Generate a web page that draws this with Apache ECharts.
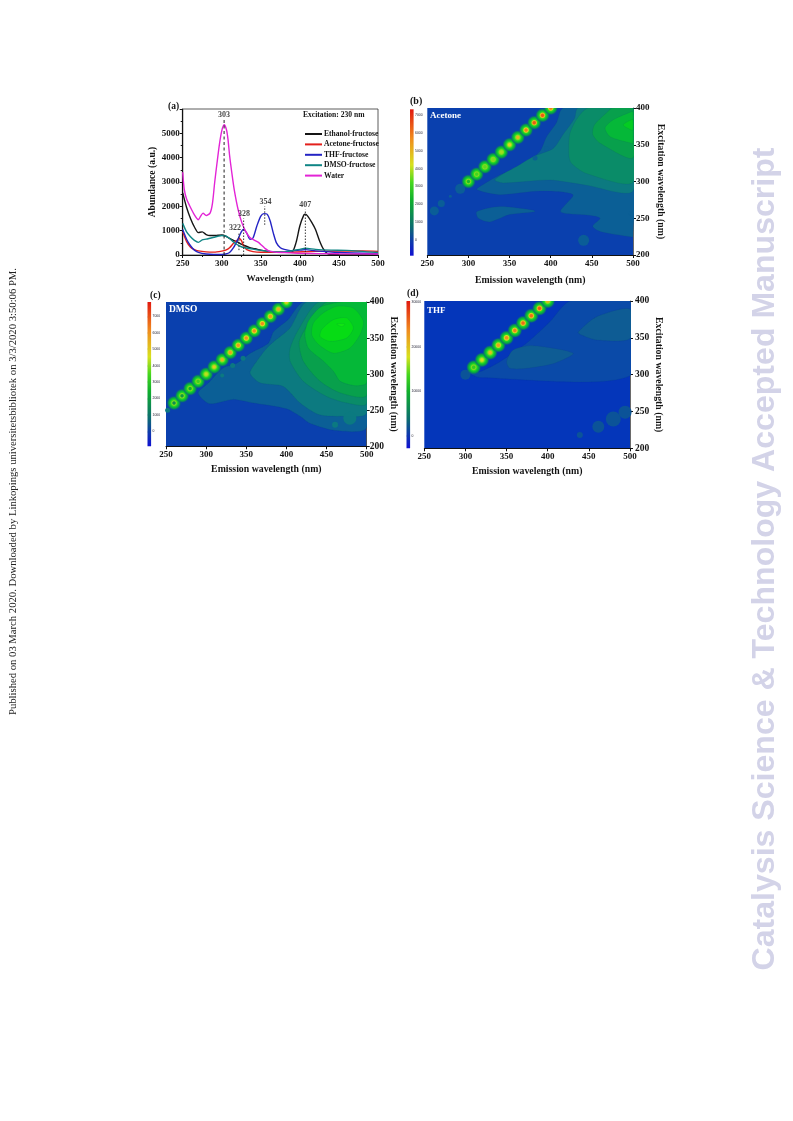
<!DOCTYPE html>
<html><head><meta charset="utf-8">
<style>html,body{margin:0;padding:0;background:#fff}#c{width:793px;height:1121px;filter:blur(0.5px)}</style>
<script src="https://cdn.jsdelivr.net/npm/echarts@6/dist/echarts.min.js"></script>
</head><body><div id="c"></div>
<script>
// ---- Panel (a) spectra, [wavelength, abundance]
const ethanol=[[250,2550],[255,1950],[260,1500],[265,1150],[270,920],[275,950],[280,840],[285,800],[290,800],[295,810],[300,820],[305,780],[310,680],[315,600],[320,540],[325,450],[330,380],[335,310],[340,270],[345,240],[350,200],[360,150],[370,120],[380,110],[390,130],[395,500],[400,1200],[405,1640],[407,1680],[410,1600],[415,1350],[420,1050],[425,600],[430,250],[435,60],[440,20],[450,10],[500,5]];
const acetone=[[250,950],[255,550],[260,320],[265,220],[270,170],[280,130],[290,120],[300,160],[305,200],[310,300],[315,480],[320,620],[322,680],[325,600],[328,380],[332,220],[340,140],[350,110],[380,110],[420,150],[450,160],[480,170],[500,150]];
const thf=[[250,1050],[255,650],[260,380],[265,200],[270,110],[280,40],[290,20],[300,20],[305,40],[310,100],[315,300],[320,600],[325,950],[328,1060],[332,900],[336,650],[340,700],[345,1200],[350,1600],[354,1700],[358,1680],[362,1400],[366,900],[370,500],[375,300],[380,230],[390,170],[400,200],[407,220],[420,170],[450,100],[500,60]];
const dmso=[[250,1300],[255,950],[260,750],[265,600],[270,520],[275,620],[280,650],[285,690],[290,730],[295,770],[300,800],[305,780],[310,680],[315,540],[320,420],[325,340],[330,300],[340,240],[350,190],[360,150],[370,130],[380,130],[390,180],[400,230],[407,280],[420,230],[440,200],[460,190],[500,100]];
const water=[[250,3400],[252,2700],[255,2300],[260,1950],[265,1650],[270,1450],[273,1600],[276,1720],[280,1620],[285,1720],[288,2100],[291,3000],[294,3800],[297,4550],[300,5100],[303,5350],[306,5150],[308,4750],[310,4100],[313,3350],[316,2680],[321,1860],[326,1300],[331,950],[336,720],[342,600],[347,520],[351,400],[355,280],[360,170],[370,110],[380,100],[400,70],[450,50],[500,40]];
const seriesNames=['Ethanol-fructose','Acetone-fructose','THF-fructose','DMSO-fructose','Water'];
const guideLabels=['303','322','328','354','407'];
const guideX=[303,322,328,355,407];
const guideLow=[0,200,0,1240,0];
const guideHigh=[5580,900,1500,2000,1860];
const guideLabelPos=[[303,5760],[317,1100],[328.5,1680],[356,2180],[407,2060]];

// ---- Panel (b) Acetone EEM, contours as [emission, excitation]
const bBands=[
 [[415,400],[407,380],[395,361],[387,341],[375,330],[354,316],[338,309],[318,296],[310,289],[338,282],[387,287],[427,282],[412,259],[447,254],[460,250],[451,239],[460,232],[496,225],[500,225],[500,400]],
 [[433,400],[429,386],[415,364],[403,345],[379,334],[358,320],[340,309],[332,302],[342,298],[399,302],[443,295],[500,287],[500,400]],
 [[445,400],[431,384],[423,364],[422,336],[425,325],[443,311],[500,299],[500,400]],
 [[474,400],[472,398],[453,377],[451,364],[460,352],[500,332],[500,400]],
 [[498,395],[476,384],[466,373],[472,361],[498,352],[500,352],[500,395]],
 [[498,384],[488,377],[498,370],[500,370],[500,384]]];
const bLowBlob=[[310,259],[338,266],[379,261],[381,259],[350,255],[326,245],[312,250]];
const bBlobs=[[258.5,260],[267,270],[278,280],[290,290],[440,220],[498,256],[395,345],[381,332]];
const bBlobSizes=[9,7,3,10,11,5,5,5];
const bPeakX=[300,310,320,330,340,350,360,370,380,390,400];
const bPeakY=[300,310,320,330,340,350,360,370,380,390,400];
const bPeakV=[3000,3600,3800,4000,4200,4700,5200,6000,6500,6500,6000];
const bBarTicks=[0,1000,2000,3000,4000,5000,6000,7000];

// ---- Panel (c) DMSO EEM
const cBands=[
 [[421,400],[402,375.5],[384,359],[377.5,343],[355,329],[338,315],[321,308.5],[303,288],[290,274],[304,259],[334,265],[359,260],[400,252],[417,241.6],[429,232],[460.6,222],[500,226],[500,400]],
 [[425,400],[404.5,364],[384,345],[375.4,336],[363,318],[354.7,301.6],[367,288],[396,283],[417,260],[440,244],[467,241.5],[500,246],[500,400]],
 [[440,400],[415,362],[404.5,336],[404.5,318],[421,290],[450,269],[475,260],[500,259],[500,400]],
 [[450,400],[429.4,373],[416,345.5],[421,318],[442,290],[467,274],[500,270.6],[500,400]],
 [[467,400],[442,392.6],[427,373],[423,355],[427.3,336],[446,318],[458.5,304],[467,290],[485.5,284],[500,288],[500,400]],
 [[433.6,371],[431.5,354.7],[440,341],[458.5,329],[479,336],[491.7,354.7],[496,373],[483.4,391.6],[462.6,394],[446,385]],
 [[444,362],[442,352],[454.3,345.5],[475,350],[483.4,364],[475,378],[458.5,375.5]],
 [[462.6,369.5],[473,369.5],[469,366]]];
const cBlobs=[[479,239],[460.6,230],[252,250],[320,298],[333,312],[346,322]];
const cBlobSizes=[13,6,5,4,5,5];
const cPeakX=[260,270,280,290,300,310,320,330,340,350,360,370,380,390,400];
const cPeakY=[260,270,280,290,300,310,320,330,340,350,360,370,380,390,400];
const cPeakV=[2200,2500,3000,3800,4700,5200,5600,5900,6100,6200,6300,6300,6000,5700,5200];
const cBarTicks=[0,1000,2000,3000,4000,5000,6000,7000];

// ---- Panel (d) THF EEM
const dBands=[
 [[427,400],[402.8,372],[376.4,344.8],[342,317.6],[317.7,304],[303.5,303],[317.7,296],[500,298.6],[500,400]],
 [[350,317.6],[358,333.5],[382.5,339.4],[431,329],[407,315],[374.4,308.6],[354,308.6]],
 [[437,358],[459.5,378.7],[500,389],[500,349],[459.5,347],[439,354.8]]];
const dBlobs=[[461.5,229.4],[479.7,239.8],[494,249],[439,218],[300,300]];
const dBlobSizes=[12,15,13,6,10];
const dPeakX=[310,320,330,340,350,360,370,380,390,400];
const dPeakY=[310,320,330,340,350,360,370,380,390,400];
const dPeakV=[14000,19000,21000,23000,24000,25000,26000,26000,27000,22000];
const dBarTicks=[0,10000,20000,30000];

// ---- Styling
const FONT='Liberation Serif', INK='#141414';
const bandColors=['#0b5f96','#0c7a80','#0a8c68','#08a04c','#05b838','#04cc22','#06dc14','#10e810'];
const ramp=[[0,[16,16,210]],[.1,[14,60,170]],[.2,[12,110,110]],[.38,[15,175,45]],[.5,[70,215,30]],[.62,[215,225,30]],[.8,[240,140,30]],[1,[225,25,15]]];
function rampRGB(t){t=Math.max(0,Math.min(1,t));for(let i=1;i<ramp.length;i++){if(t<=ramp[i][0]){const a=ramp[i-1],b=ramp[i],k=(t-a[0])/(b[0]-a[0]);return a[1].map((c,j)=>Math.round(c+(b[1][j]-c)*k));}}return ramp[ramp.length-1][1];}
const css=(c,al)=>`rgba(${c[0]},${c[1]},${c[2]},${al==null?1:al})`;
function peakFill(frac){ // radial glow: peak colour at the middle, green ring, teal rim
  const hot=rampRGB(frac), mid=rampRGB(Math.max(.55,frac*.78));
  return {type:'radial',x:.5,y:.5,r:.5,global:false,colorStops:[
    {offset:0,color:css(hot)},{offset:.16,color:css(hot)},{offset:.32,color:css(mid)},
    {offset:.46,color:css([40,215,35])},{offset:.62,color:css([10,190,50])},{offset:.8,color:css([10,140,90])},{offset:1,color:css([10,100,120],.3)}]};
}
const panels=[
 {rect:[427.3,108,205.7,147],bg:'#0a40ae',bands:bBands,bandCol:bandColors,blobs:bBlobs,sizes:bBlobSizes,px:bPeakX,py:bPeakY,pv:bPeakV,vmax:7300,size:14,
  bar:[410,109.3,3.6,146.4],min:-880,max:7320,ticks:bBarTicks,xGap:20,yGap:23,margin:3},
 {rect:[166,302,200.7,144.3],bg:'#0a40ae',bands:cBands,bandCol:bandColors,blobs:cBlobs,sizes:cBlobSizes,px:cPeakX,py:cPeakY,pv:cPeakV,vmax:7870,size:14,
  bar:[147.5,302,3.6,144.3],min:-913,max:7870,ticks:cBarTicks,xGap:18,yGap:22,margin:3},
 {rect:[424.3,301,205.7,147.3],bg:'#0436ba',bands:dBands,bandCol:['#0a4aa8','#0e5c94','#0e5c94'],blobs:dBlobs,sizes:dBlobSizes,px:dPeakX,py:dPeakY,pv:dPeakV,vmax:30300,size:14.5,
  bar:[406.5,301,3.6,147.3],min:-2840,max:30300,ticks:dBarTicks,xGap:18,yGap:24,margin:5}];

const axisText={color:INK,fontFamily:FONT,fontWeight:'bold',fontSize:9};
const nameText={color:INK,fontFamily:FONT,fontWeight:'bold',fontSize:9.2};
const eemName={...nameText,fontSize:9.8};
const grids=[{left:182.7,top:109,width:195.3,height:146,show:true,borderColor:'#333',borderWidth:.8,backgroundColor:'transparent'}];
const xAxes=[{gridIndex:0,type:'value',min:250,max:500,interval:50,name:'Wavelength (nm)',nameLocation:'middle',nameGap:19,nameTextStyle:nameText,
  axisLine:{onZero:false,lineStyle:{color:'#111',width:1.2}},axisTick:{length:3,lineStyle:{color:'#111'}},minorTick:{show:true,splitNumber:2,length:2,lineStyle:{color:'#111'}},axisLabel:{...axisText,margin:4},splitLine:{show:false}}];
const yAxes=[{gridIndex:0,type:'value',min:0,max:6000,interval:1000,name:'Abundance (a.u.)',nameLocation:'middle',nameGap:25,nameRotate:90,nameTextStyle:{...nameText,fontSize:9.6},
  axisLine:{lineStyle:{color:'#111',width:1.2}},axisTick:{length:3,lineStyle:{color:'#111'}},minorTick:{show:true,splitNumber:2,length:2,lineStyle:{color:'#111'}},
  axisLabel:{...axisText,margin:3,formatter:v=>v==6000?'':v},splitLine:{show:false}}];

const lineCols=['#151515','#e3201c','#2424c4','#0f8585','#e324d6'];
const series=[];
[ethanol,acetone,thf,dmso,water].forEach((d,i)=>series.push({type:'line',name:seriesNames[i],xAxisIndex:0,yAxisIndex:0,data:d,showSymbol:false,smooth:.25,lineStyle:{color:lineCols[i],width:1.4},itemStyle:{color:lineCols[i]},z:3}));
guideX.forEach((x,i)=>series.push({type:'line',xAxisIndex:0,yAxisIndex:0,showSymbol:false,silent:true,z:4,
  data:[[x,guideLow[i]],[x,guideHigh[i]]],lineStyle:{color:'#222',width:i?0.9:1,type:i?[1.5,1.5]:[3,2.5]}}));
series.push({type:'scatter',xAxisIndex:0,yAxisIndex:0,symbolSize:0,silent:true,z:5,data:guideLabelPos.map((p,i)=>({value:p,label:{show:true,position:'inside',formatter:guideLabels[i],color:INK,fontFamily:FONT,fontWeight:'bold',fontSize:8}}))});

function bandSeries(g,pts,col){return {type:'custom',xAxisIndex:g,yAxisIndex:g,data:pts,clip:true,silent:true,z:2,
  renderItem(params,api){ if(params.dataIndex!==0) return null;
    return {type:'polygon',shape:{points:pts.map(p=>api.coord(p)),smooth:.25},style:{fill:col,stroke:'rgba(6,50,110,.25)',lineWidth:.4}};}};}

panels.forEach((p,k)=>{
  const g=grids.length;
  grids.push({left:p.rect[0],top:p.rect[1],width:p.rect[2],height:p.rect[3],show:true,backgroundColor:p.bg,borderWidth:0});
  xAxes.push({gridIndex:g,type:'value',min:250,max:500,interval:50,name:'Emission wavelength (nm)',nameLocation:'middle',nameGap:p.xGap,nameTextStyle:eemName,
    axisLine:{onZero:false,lineStyle:{color:'#111',width:1}},axisTick:{length:3,lineStyle:{color:'#111'}},axisLabel:{...axisText,margin:4},splitLine:{show:false}});
  yAxes.push({gridIndex:g,type:'value',position:'right',min:200,max:400,interval:50,name:'Excitation wavelength (nm)',nameLocation:'middle',nameGap:p.yGap,nameRotate:-90,nameTextStyle:eemName,
    axisLine:{onZero:false,lineStyle:{color:'#444',width:.8}},axisTick:{length:3,lineStyle:{color:'#111'}},axisLabel:{...axisText,margin:p.margin,fontSize:k?9.5:9},splitLine:{show:false}});
  if(k==0) series.push(bandSeries(g,bBands[0],bandColors[0]),bandSeries(g,bLowBlob,bandColors[0]));
  p.bands.forEach((b,i)=>{ if(!(k==0&&i==0)) series.push(bandSeries(g,b,p.bandCol[i])); });
  series.push({type:'scatter',xAxisIndex:g,yAxisIndex:g,silent:true,z:2,data:p.blobs,symbolSize:(v,o)=>p.sizes[o.dataIndex],itemStyle:{color:k==2?'#0c5596':bandColors[k==1?1:0],opacity:.95}});
  series.push({type:'custom',xAxisIndex:g,yAxisIndex:g,silent:true,z:3,clip:true,
    data:p.px.map((x,i)=>[x,p.py[i],p.pv[i]]),
    renderItem(params,api){
      const c=api.coord([api.value(0),api.value(1)]);
      return {type:'circle',shape:{cx:c[0],cy:c[1],r:p.size/2},style:{fill:peakFill(api.value(2)/p.vmax)}};}});
  // colour bar
  const gb=grids.length;
  grids.push({left:p.bar[0],top:p.bar[1],width:p.bar[2],height:p.bar[3],show:false});
  xAxes.push({gridIndex:gb,type:'value',min:0,max:1,show:false});
  yAxes.push({gridIndex:gb,type:'value',position:'right',min:p.min,max:p.max,
    axisLine:{show:false},splitLine:{show:false},
    axisLabel:{color:'#223',fontFamily:'Liberation Sans',fontSize:3.4,margin:1.5,customValues:p.ticks,hideOverlap:false,formatter:v=>v},
    axisTick:{show:true,customValues:p.ticks,length:1,lineStyle:{color:'#222',width:.4}}});
  series.push({type:'custom',xAxisIndex:gb,yAxisIndex:gb,silent:true,z:3,data:[[0,p.min,1,p.max]],clip:false,
    renderItem(params,api){
      const a=api.coord([0,p.max]),b=api.coord([1,p.min]);
      return {type:'rect',shape:{x:a[0],y:a[1],width:b[0]-a[0],height:b[1]-a[1]},
        style:{fill:{type:'linear',x:0,y:1,x2:0,y2:0,colorStops:ramp.map(r=>({offset:r[0],color:css(r[1])}))}}};}});
});

const T=(text,x,y,o={})=>({type:'text',x,y,z:20,rotation:o.rot||0,silent:true,style:{text,fill:o.fill||INK,font:`${o.weight||'bold'} ${o.size||9}px "${o.family||FONT}"`,align:o.align||'left',verticalAlign:'middle'}});
const graphics=[
 T('(a)',168,107,{size:9.5}),T('(b)',410,101,{size:10}),T('(c)',150,296,{size:9.5}),T('(d)',407,294,{size:9.5}),
 T('Excitation: 230 nm',303,115,{size:7.6}),
 T('Acetone',430,116,{fill:'#fff',size:9}),T('DMSO',169,310,{fill:'#fff',size:9.5}),T('THF',427,311,{fill:'#fff',size:9}),
 T('Published on 03 March 2020. Downloaded by Linkopings universitetsbibliotek on 3/3/2020 3:50:06 PM.',13,491.5,{rot:Math.PI/2,align:'center',size:10.67,weight:'normal',fill:'#222'}),
 T('Catalysis Science & Technology Accepted Manuscript',765,559,{rot:Math.PI/2,align:'center',size:32.1,family:'Liberation Sans',fill:'#d3d3e8'})
];

const chart=echarts.init(document.getElementById('c'),null,{renderer:'canvas',width:793,height:1121});
chart.setOption({animation:false,backgroundColor:'#fff',grid:grids,xAxis:xAxes,yAxis:yAxes,series,
 legend:{data:seriesNames,orient:'vertical',left:305,top:130,itemWidth:17,itemHeight:2,itemGap:2.4,icon:'rect',padding:0,selectedMode:false,
   textStyle:{fontFamily:FONT,fontWeight:'bold',fontSize:7.6,color:INK,padding:[0,0,0,-3]}},
 graphic:graphics});
</script></body></html>
